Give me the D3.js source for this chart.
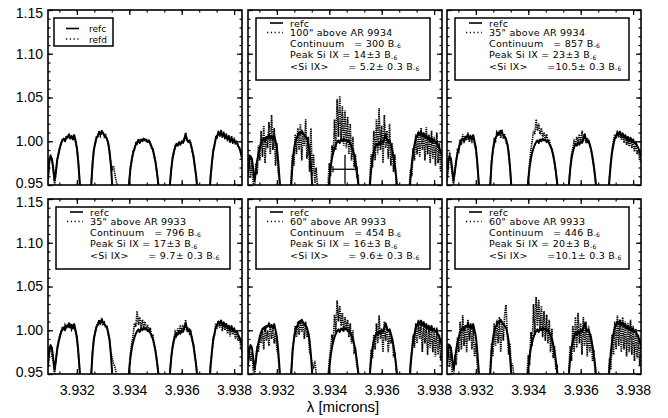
<!DOCTYPE html>
<html><head><meta charset="utf-8">
<script src="https://cdn.jsdelivr.net/npm/d3@7"></script>
<style>
body{margin:0;background:#fff}
svg{display:block}
text{font-family:"Liberation Sans",Arial,Helvetica,sans-serif;fill:#000}
.lg text{font-family:"DejaVu Sans",sans-serif}
</style>
</head><body>
<svg id="chart" width="668" height="418"></svg>
<script>
// ---------------- DATA ----------------
const wavelength = [
3.93090,3.93095,3.93100,3.93105,3.93110,3.93115,3.93120,3.93125,3.93130,3.93135,
3.93140,3.93145,3.93150,3.93155,3.93160,3.93165,3.93170,3.93175,3.93180,3.93185,
3.93190,3.93195,3.93200,3.93205,3.93210,3.93215,3.93220,3.93225,3.93230,3.93235,
3.93240,3.93245,3.93250,3.93255,3.93260,3.93265,3.93270,3.93275,3.93280,3.93285,
3.93290,3.93295,3.93300,3.93305,3.93310,3.93315,3.93320,3.93325,3.93330,3.93335,
3.93340,3.93345,3.93350,3.93355,3.93360,3.93365,3.93370,3.93375,3.93380,3.93385,
3.93390,3.93395,3.93400,3.93405,3.93410,3.93415,3.93420,3.93425,3.93430,3.93435,
3.93440,3.93445,3.93450,3.93455,3.93460,3.93465,3.93470,3.93475,3.93480,3.93485,
3.93490,3.93495,3.93500,3.93505,3.93510,3.93515,3.93520,3.93525,3.93530,3.93535,
3.93540,3.93545,3.93550,3.93555,3.93560,3.93565,3.93570,3.93575,3.93580,3.93585,
3.93590,3.93595,3.93600,3.93605,3.93610,3.93615,3.93620,3.93625,3.93630,3.93635,
3.93640,3.93645,3.93650,3.93655,3.93660,3.93665,3.93670,3.93675,3.93680,3.93685,
3.93690,3.93695,3.93700,3.93705,3.93710,3.93715,3.93720,3.93725,3.93730,3.93735,
3.93740,3.93745,3.93750,3.93755,3.93760,3.93765,3.93770,3.93775,3.93780,3.93785,
3.93790,3.93795,3.93800,3.93805,3.93810,3.93815,3.93820,3.93825,3.93830];

// reference spectrum (solid, drawn in every panel)
const refc = [
0.960,0.978,0.983,0.980,0.968,0.955,0.965,0.978,0.986,0.992,
0.998,1.001,1.003,1.000,1.005,1.004,1.008,1.003,1.006,1.002,
1.007,1.000,0.993,0.978,0.958,0.935,0.900,0.880,0.880,0.880,
0.880,0.880,0.920,0.950,0.975,0.990,0.998,1.004,1.006,1.010,
1.008,1.012,1.009,1.007,1.005,1.003,0.997,0.988,0.972,0.950,
0.920,0.880,0.880,0.880,0.880,0.880,0.880,0.880,0.880,0.880,
0.900,0.935,0.955,0.970,0.980,0.987,0.992,0.996,0.999,1.001,
0.998,1.002,1.000,1.003,1.001,1.002,0.999,1.001,0.997,0.994,
0.990,0.984,0.976,0.966,0.953,0.935,0.900,0.880,0.880,0.880,
0.880,0.880,0.920,0.950,0.968,0.980,0.988,0.993,0.997,0.995,
0.999,0.996,1.000,0.998,1.003,1.008,1.002,0.999,1.001,0.996,
0.990,0.982,0.972,0.960,0.945,0.920,0.880,0.880,0.880,0.880,
0.880,0.880,0.900,0.935,0.958,0.975,0.988,0.996,1.003,1.006,
1.010,1.007,1.011,1.006,1.009,1.004,1.007,1.002,1.005,1.000,
1.004,0.999,1.002,0.998,0.999,0.995,0.992,0.988,0.982];

const refd = [
0.952,0.975,0.985,0.977,0.972,0.950,0.962,0.980,0.984,0.994,
0.996,1.003,1.001,1.002,1.003,1.006,1.006,1.005,1.004,1.004,
1.005,1.002,0.991,0.980,0.955,0.935,0.900,0.880,0.880,0.880,
0.880,0.880,0.922,0.952,0.973,0.992,0.996,1.006,1.004,1.012,
1.006,1.010,1.011,1.005,1.007,1.001,0.999,0.985,0.975,0.968,
0.972,0.962,0.955,0.948,0.900,0.880,0.880,0.880,0.880,0.880,
0.900,0.938,0.953,0.972,0.978,0.989,0.990,0.998,0.997,1.003,
0.999,1.001,1.002,1.001,1.003,1.000,1.001,0.999,0.999,0.992,
0.992,0.982,0.978,0.964,0.955,0.933,0.900,0.880,0.880,0.880,
0.880,0.880,0.918,0.952,0.966,0.982,0.986,0.995,0.995,0.997,
0.997,0.998,0.998,1.000,1.001,1.010,1.000,1.001,0.999,0.998,
0.988,0.984,0.970,0.962,0.943,0.920,0.880,0.880,0.880,0.880,
0.880,0.880,0.902,0.933,0.960,0.973,0.990,0.994,1.005,1.004,
1.012,1.005,1.013,1.004,1.011,1.002,1.009,1.000,1.007,0.998,
1.006,0.997,1.004,0.996,1.001,0.993,0.994,0.986,0.978];

const ar9934_100 = [
0.965,0.985,0.958,0.978,0.952,0.945,0.975,0.962,0.995,0.978,
1.012,0.982,1.018,0.975,1.005,0.992,1.022,0.985,1.030,0.990,
1.015,0.972,0.998,0.965,0.955,0.930,0.900,0.880,0.880,0.880,
0.880,0.880,0.925,0.962,0.985,0.972,1.008,0.985,1.015,0.990,
1.020,0.978,1.010,0.995,1.025,0.980,1.005,0.965,1.015,0.960,
0.985,0.952,0.970,0.948,0.900,0.880,0.880,0.880,0.880,0.880,
0.910,0.948,0.975,0.960,0.995,0.985,1.025,0.990,1.048,1.005,
1.052,1.000,1.040,0.995,1.035,0.992,1.028,0.985,1.020,0.978,
1.005,0.970,0.985,0.958,0.962,0.930,0.900,0.880,0.880,0.880,
0.880,0.880,0.925,0.958,0.985,0.970,1.012,0.978,1.025,0.985,
1.038,0.990,1.018,0.975,1.030,0.992,1.012,0.980,1.020,0.972,
0.998,0.965,0.985,0.952,0.948,0.915,0.880,0.880,0.880,0.880,
0.880,0.880,0.905,0.945,0.968,0.960,0.992,0.978,1.008,0.985,
1.012,0.982,1.015,0.990,1.010,0.978,1.016,0.985,1.008,0.975,
1.012,0.980,1.005,0.972,1.010,0.975,0.998,0.965,0.985];

const ar9934_35 = [
0.955,0.970,0.988,0.975,0.962,0.950,0.968,0.975,0.990,0.988,
1.002,0.996,1.008,0.998,1.006,1.001,1.010,0.999,1.005,1.000,
1.006,0.996,0.990,0.975,0.955,0.932,0.900,0.880,0.880,0.880,
0.880,0.880,0.922,0.952,0.978,0.988,1.002,1.000,1.010,1.006,
1.012,1.004,1.013,1.003,1.008,0.998,0.998,0.984,0.970,0.952,
0.925,0.880,0.880,0.880,0.880,0.880,0.880,0.880,0.880,0.880,
0.902,0.940,0.958,0.975,0.990,1.000,1.012,1.008,1.025,1.012,
1.020,1.008,1.015,1.005,1.010,1.002,1.008,1.000,1.002,0.995,
0.992,0.985,0.976,0.965,0.952,0.933,0.900,0.880,0.880,0.880,
0.880,0.880,0.920,0.952,0.970,0.985,0.992,1.000,0.996,1.005,
1.000,1.008,0.998,1.012,1.002,1.006,0.998,1.004,0.998,0.995,
0.990,0.980,0.970,0.958,0.943,0.918,0.880,0.880,0.880,0.880,
0.880,0.880,0.902,0.938,0.960,0.978,0.992,1.000,1.008,1.003,
1.012,1.004,1.010,1.002,1.008,0.998,1.006,0.996,1.002,0.994,
1.004,0.992,1.000,0.988,0.998,0.985,0.990,0.980,0.975];

const ar9933_35 = [
0.958,0.975,0.982,0.970,0.965,0.948,0.966,0.980,0.988,0.995,
0.998,1.004,1.000,1.006,1.002,1.007,1.003,1.008,1.001,1.005,
1.003,0.998,0.990,0.976,0.956,0.933,0.900,0.880,0.880,0.880,
0.880,0.880,0.920,0.950,0.974,0.992,0.996,1.005,1.008,1.012,
1.006,1.014,1.007,1.009,1.003,1.004,0.995,0.990,0.974,0.968,
0.962,0.958,0.952,0.945,0.900,0.880,0.880,0.880,0.880,0.880,
0.902,0.940,0.958,0.975,0.986,0.995,1.008,1.004,1.022,1.006,
1.015,1.002,1.012,1.004,1.010,1.000,1.006,0.998,1.003,0.993,
0.994,0.983,0.978,0.964,0.954,0.933,0.900,0.880,0.880,0.880,
0.880,0.880,0.918,0.952,0.970,0.982,0.990,0.998,0.994,1.002,
0.996,1.006,0.997,1.004,1.000,1.012,0.998,1.003,0.996,0.998,
0.987,0.984,0.970,0.962,0.943,0.918,0.880,0.880,0.880,0.880,
0.880,0.880,0.902,0.935,0.962,0.972,0.992,0.994,1.008,1.002,
1.010,1.003,1.012,0.999,1.009,1.000,1.008,0.996,1.005,0.993,
1.006,0.995,1.003,0.990,1.000,0.988,0.992,0.982,0.975];

const ar9933_60a = [
0.962,0.980,0.965,0.975,0.955,0.945,0.970,0.982,0.975,0.995,
0.985,1.002,0.978,1.005,0.988,1.000,0.982,1.006,0.990,1.003,
0.985,0.998,0.978,0.972,0.952,0.930,0.900,0.880,0.880,0.880,
0.880,0.880,0.922,0.955,0.980,0.988,1.005,0.992,1.010,0.995,
1.012,0.998,1.008,0.990,1.010,0.992,0.998,0.975,0.970,0.962,
0.958,0.965,0.950,0.948,0.900,0.880,0.880,0.880,0.880,0.880,
0.905,0.945,0.965,0.978,0.995,0.985,1.018,0.998,1.034,1.010,
1.028,1.005,1.020,0.998,1.015,1.002,1.012,0.992,1.008,0.985,
1.000,0.975,0.978,0.960,0.955,0.930,0.900,0.880,0.880,0.880,
0.880,0.880,0.920,0.955,0.978,0.968,0.995,0.978,1.008,0.985,
1.017,0.990,1.002,0.975,1.010,0.988,1.005,0.975,0.998,0.985,
0.992,0.972,0.975,0.955,0.945,0.915,0.880,0.880,0.880,0.880,
0.880,0.880,0.905,0.940,0.965,0.978,0.995,0.980,1.008,0.985,
1.012,0.990,1.008,0.975,1.010,0.985,1.005,0.972,1.002,0.980,
1.006,0.975,0.998,0.970,1.003,0.972,0.995,0.965,0.985];

const ar9933_60b = [
0.965,0.985,0.958,0.980,0.950,0.942,0.972,0.960,0.992,0.975,
1.010,0.978,1.017,0.982,1.005,0.975,1.012,0.988,1.008,0.978,
1.002,0.970,0.985,0.962,0.950,0.928,0.900,0.880,0.880,0.880,
0.880,0.880,0.925,0.958,0.985,0.970,1.008,0.982,1.012,0.985,
1.015,0.975,1.010,0.988,1.018,1.029,0.995,0.972,0.985,0.958,
0.962,0.948,0.945,0.930,0.900,0.880,0.880,0.880,0.880,0.880,
0.908,0.948,0.972,0.960,0.998,0.982,1.030,0.995,1.038,1.005,
1.035,1.000,1.028,0.992,1.022,0.988,1.018,0.985,1.012,0.975,
1.002,0.968,0.982,0.955,0.958,0.928,0.900,0.880,0.880,0.880,
0.880,0.880,0.922,0.955,0.982,0.965,1.005,0.975,1.015,0.980,
1.020,0.985,1.008,0.972,1.015,0.982,1.010,0.970,1.005,0.975,
0.995,0.965,0.978,0.950,0.945,0.912,0.880,0.880,0.880,0.880,
0.880,0.880,0.905,0.942,0.968,0.955,0.995,0.972,1.010,0.978,
1.017,0.982,1.012,0.975,1.015,0.978,1.010,0.970,1.008,0.975,
1.012,0.972,1.005,0.965,1.002,0.968,0.995,0.960,0.982];

const panelSeries = [refd, ar9934_100, ar9934_35, ar9933_35, ar9933_60a, ar9933_60b];
const solidLabel = "refc";
const dottedLabels = ["refd", "100\" above AR 9934", "35\" above AR 9934",
                      "35\" above AR 9933", "60\" above AR 9933", "60\" above AR 9933"];
const continuumB = [null, "300", "857", "796", "454", "446"];
const peakSiIX   = [null, "14\u00b13", "23\u00b13", "17\u00b13", "16\u00b13", "20\u00b13"];
const meanSiIX   = [null, "5.2", "10.5", "9.7", "9.6", "10.1"];
const meanErr = "0.3";
const unitSub = "-6";

const xTicks = [3.932, 3.934, 3.936, 3.938];
const yTicks = [0.95, 1.00, 1.05, 1.10, 1.15];
const xDomain = [3.9309, 3.9383];
const yDomain = [0.95, 1.15];
const xTitle = "\u03bb [microns]";

// error bar (panel 2)
const errPanel = 1, errX = 3.9346, errY = 0.968, errDX = 0.00046, errDY = 0.0165;

// ---------------- LAYOUT ----------------
const svg = d3.select("#chart");
const colX = [48, 248, 447], rowY = [10, 199];
const PW = 194, PH = 175;

const xMinor = d3.range(3.9300, 3.9390, 0.002/3).filter(v => v > xDomain[0] && v < xDomain[1]);
const yMinor = d3.range(0.95, 1.1501, 0.01);

panelSeries.forEach((ser, k) => {
  const col = k % 3, row = Math.floor(k / 3);
  const x0 = colX[col], y0 = rowY[row];
  const x = d3.scaleLinear().domain(xDomain).range([x0, x0 + PW]);
  const y = d3.scaleLinear().domain(yDomain).range([y0 + PH, y0]);
  const g = svg.append("g");

  const clipId = "clip" + k;
  svg.append("clipPath").attr("id", clipId).append("rect")
    .attr("x", x0).attr("y", y0).attr("width", PW).attr("height", PH);

  const line = d3.line().x(d => x(d[0])).y(d => y(d[1]));
  const dataG = g.append("g").attr("clip-path", `url(#${clipId})`);

  dataG.append("path").datum(wavelength.map((w, i) => [w, refc[i]]))
    .attr("d", line).attr("fill", "none").attr("stroke", "#000")
    .attr("stroke-width", 2).attr("stroke-linejoin", "round");
  dataG.append("path").datum(wavelength.map((w, i) => [w, ser[i]]))
    .attr("d", line).attr("fill", "none").attr("stroke", "#000")
    .attr("stroke-width", 1.7).attr("stroke-dasharray", "1.3,0.9");

  if (k === errPanel) {
    const eg = dataG.append("g").attr("stroke", "#000").attr("stroke-width", 1.3);
    eg.append("line").attr("x1", x(errX - errDX)).attr("x2", x(errX + errDX))
      .attr("y1", y(errY)).attr("y2", y(errY));
    eg.append("line").attr("x1", x(errX)).attr("x2", x(errX))
      .attr("y1", y(errY - errDY)).attr("y2", y(errY + errDY));
    [errX - errDX, errX + errDX].forEach(v =>
      eg.append("line").attr("x1", x(v)).attr("x2", x(v))
        .attr("y1", y(errY) - 3).attr("y2", y(errY) + 3));
  }

  // axes (ticks inward on all four sides)
  const mk = (axis, scale, vals, size, fmt) =>
    axis(scale).tickValues(vals).tickSize(-size).tickSizeOuter(0).tickFormat(fmt || "");
  const addAxis = (ax, tx, ty) => {
    const a = g.append("g").attr("transform", `translate(${tx},${ty})`).call(ax);
    a.select(".domain").remove();
    a.selectAll("line").attr("stroke", "#000").attr("stroke-width", 1.2);
    a.attr("font-family", null).attr("font-size", null);
    a.selectAll("text").attr("font-size", 14).attr("fill", "#000");
    return a;
  };
  const showX = row === 1, showY = col === 0;
  addAxis(mk(d3.axisBottom, x, xTicks, 5, showX ? d3.format(".3f") : "").tickPadding(11), 0, y0 + PH);
  addAxis(mk(d3.axisBottom, x, xMinor, 2.5), 0, y0 + PH);
  addAxis(mk(d3.axisTop, x, xTicks, 5), 0, y0);
  addAxis(mk(d3.axisTop, x, xMinor, 2.5), 0, y0);
  const ya = addAxis(mk(d3.axisLeft, y, yTicks, 5, showY ? d3.format(".2f") : "").tickPadding(5), x0, 0);
  // end labels nudged inward, as in the original plot
  ya.selectAll("text").attr("transform", d =>
    d === yDomain[1] ? "translate(0,3)" : d === yDomain[0] ? "translate(0,-2)" : null);
  addAxis(mk(d3.axisLeft, y, yMinor, 2.5), x0, 0);
  addAxis(mk(d3.axisRight, y, yTicks, 5), x0 + PW, 0);
  addAxis(mk(d3.axisRight, y, yMinor, 2.5), x0 + PW, 0);

  g.append("rect").attr("x", x0).attr("y", y0).attr("width", PW).attr("height", PH)
    .attr("fill", "none").attr("stroke", "#000").attr("stroke-width", 1.6);

  // legend
  const lg = g.append("g").attr("class", "lg");
  const fs = 9.5;
  if (k === 0) {
    const bxL = x0 + 6, byT = y0 + 8;
    lg.append("rect").attr("x", bxL).attr("y", byT).attr("width", 59).attr("height", 28)
      .attr("fill", "#fff").attr("stroke", "#000").attr("stroke-width", 1.5);
    lg.append("line").attr("x1", bxL + 12).attr("x2", bxL + 25).attr("y1", byT + 10.5).attr("y2", byT + 10.5)
      .attr("stroke", "#000").attr("stroke-width", 1.6);
    lg.append("line").attr("x1", bxL + 12).attr("x2", bxL + 27).attr("y1", byT + 21).attr("y2", byT + 21)
      .attr("stroke", "#000").attr("stroke-width", 1.4).attr("stroke-dasharray", "1.2,2.6");
    lg.append("text").attr("x", bxL + 35).attr("y", byT + 14).attr("font-size", 9).text(solidLabel);
    lg.append("text").attr("x", bxL + 35).attr("y", byT + 24.5).attr("font-size", 9).text(dottedLabels[k]);
  } else {
    const bxL = x0 + 8, byT = y0 + 8;
    lg.append("rect").attr("x", bxL).attr("y", byT).attr("width", 174).attr("height", 62)
      .attr("fill", "#fff").attr("stroke", "#000").attr("stroke-width", 1.5);
    lg.append("line").attr("x1", bxL + 14).attr("x2", bxL + 27).attr("y1", byT + 5).attr("y2", byT + 5)
      .attr("stroke", "#000").attr("stroke-width", 1.6);
    lg.append("line").attr("x1", bxL + 11).attr("x2", bxL + 27).attr("y1", byT + 14.5).attr("y2", byT + 14.5)
      .attr("stroke", "#000").attr("stroke-width", 1.4).attr("stroke-dasharray", "1.2,2.6");
    const tx = bxL + 34;
    const t = (yy, s) => lg.append("text").attr("x", tx).attr("y", byT + yy)
      .attr("font-size", fs).attr("letter-spacing", 0.25)
      .attr("xml:space", "preserve").style("white-space", "pre").text(s);
    t(8.5, solidLabel);
    t(18, dottedLabels[k]);
    const withSub = (yy, s) => {
      const el = t(yy, s);
      el.append("tspan").attr("font-size", 6).attr("dy", 1.5).text(unitSub);
    };
    withSub(28.5, "Continuum   = " + continuumB[k] + " B");
    withSub(40, "Peak Si IX = " + peakSiIX[k] + " B");
    withSub(51.5, "<Si IX>      =" + meanSiIX[k].padStart(4, " ") + "\u00b1 " + meanErr + " B");
  }
});

svg.append("text").attr("x", 343).attr("y", 412).attr("text-anchor", "middle")
  .attr("font-size", 15).text(xTitle);
</script>
</body></html>
